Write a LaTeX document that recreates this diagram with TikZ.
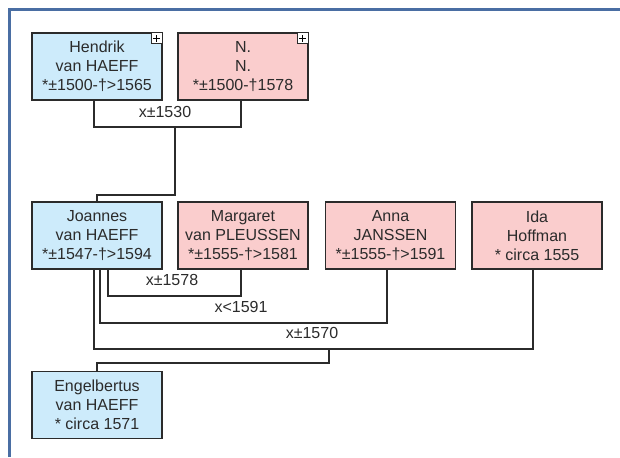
\documentclass[tikz,border=0pt]{standalone}
\usepackage{fontspec}
\setmainfont{Liberation Sans}
\usetikzlibrary{positioning, calc}
\definecolor{fsmale}{HTML}{CDEBFB}
\definecolor{fsfemale}{HTML}{FACDCD}
\definecolor{fsframe}{HTML}{4A6EA3}
\definecolor{fsline}{HTML}{2B2B2B}

\begin{document}
\begin{tikzpicture}[x=1pt, y=-1pt,
    person/.style={rectangle, draw=fsline, line width=1.2pt, fill=#1,
                   minimum width=130pt, minimum height=67pt, inner sep=0pt,
                   align=center, text=fsline, font=\fontsize{16}{19}\selectfont},
    union/.style={font=\fontsize{16}{19}\selectfont, text=fsline, inner sep=0pt},
    link/.style={draw=fsline, line width=1.2pt},
    expand/.style={rectangle, draw=fsline, line width=0.8pt, fill=white,
                   minimum size=11pt, inner sep=0pt, anchor=north east},
    cross/.style={draw=black, line width=1.2pt}
]
\useasboundingbox (0,0) rectangle (620,457);
\draw[fsframe, line width=3pt] (9,457) -- (9,10) -- (620,10);

% parents
\node[person=fsmale]   (hendrik) at (97,66.5)  {Hendrik\\van HAEFF\\*±1500-†>1565};
\node[person=fsfemale] (nn)      at (243,66.5) {N.\\N.\\*±1500-†1578};
\foreach \p in {hendrik, nn} {
  \node[expand] (\p x) at (\p.north east) {};
  \draw[cross] ([xshift=-3.5pt]\p x.center) -- ([xshift=3.5pt]\p x.center)
               ([yshift=-3.5pt]\p x.center) -- ([yshift=3.5pt]\p x.center);
}

% generation 2
\node[person=fsmale]   (joannes)  at (97,235.5)    {Joannes\\van HAEFF\\*±1547-†>1594};
\node[person=fsfemale] (margaret) at (243,235.5)   {Margaret\\van PLEUSSEN\\*±1555-†>1581};
\node[person=fsfemale] (anna)     at (390.5,235.5) {Anna\\JANSSEN\\*±1555-†>1591};
\node[person=fsfemale] (ida)      at (537,235.5)   {Ida\\Hoffman\\* circa 1555};

% generation 3
\node[person=fsmale] (engelbertus) at (97,405) {Engelbertus\\van HAEFF\\* circa 1571};

% unions
\coordinate (u1530) at (175,127);
\coordinate (u1578) at (172,296);
\coordinate (u1591) at (241,323);
\coordinate (u1570) at (329,349);
\node[union] (l1530) at (165,112) {x±1530};
\node[union] (l1578) at (172,280) {x±1578};
\node[union] (l1591) at (241,307) {x<1591};
\node[union] (l1570) at (312,333) {x±1570};

\draw[link] ([xshift=-3pt]hendrik.south) |- (u1530) -| ([xshift=-2pt]nn.south);
\draw[link] (u1530) |- ++(0,68) -| (joannes.north);
\draw[link] ([xshift=11pt]joannes.south) |- (u1578) -| ([xshift=-2pt]margaret.south);
\draw[link] ([xshift=3pt]joannes.south) |- (u1591) -| ([xshift=-3.5pt]anna.south);
\draw[link] ([xshift=-3pt]joannes.south) |- (u1570) -| ([xshift=-4pt]ida.south);
\draw[link] (u1570) |- ++(0,14) -| (engelbertus.north);
\end{tikzpicture}
\end{document}
